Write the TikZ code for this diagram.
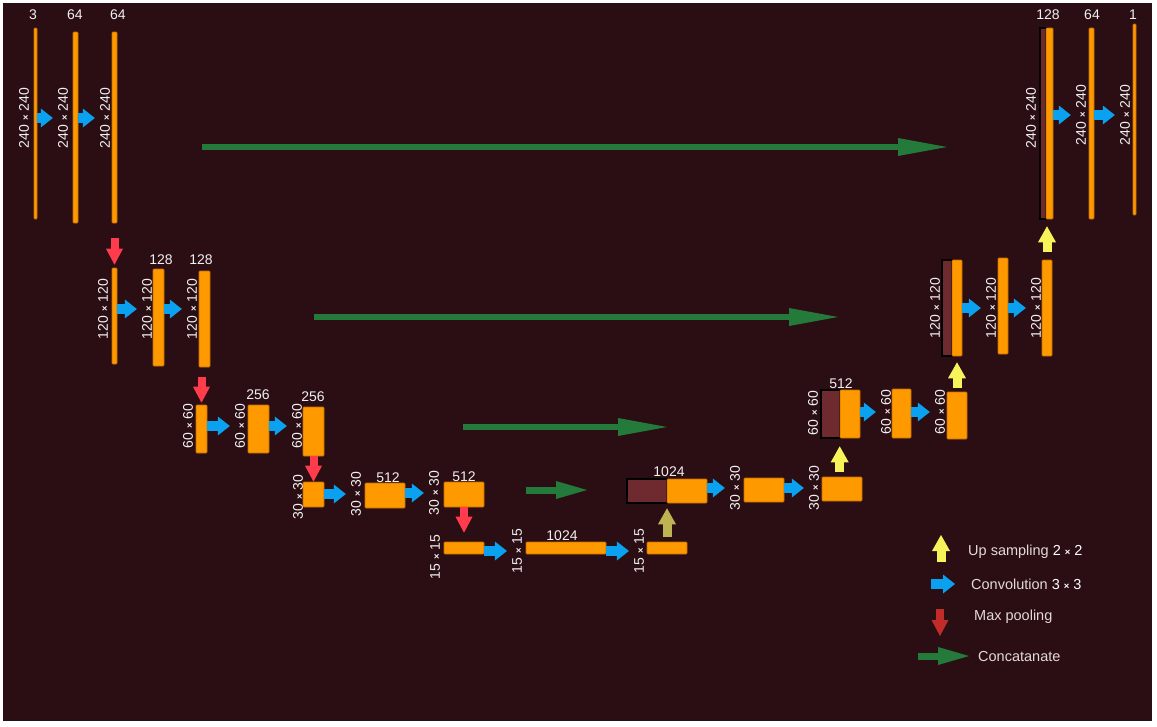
\documentclass[tikz,border=0pt]{standalone}
\usepackage{fontspec}
\setmainfont{Liberation Sans}
\usetikzlibrary{arrows.meta, fit}

\definecolor{bgc}{HTML}{2B0E13}
\definecolor{orng}{HTML}{FF9900}
\definecolor{orline}{HTML}{C46C00}
\definecolor{catc}{HTML}{6E2A2E}
\definecolor{convc}{HTML}{0AA2F0}
\definecolor{poolc}{HTML}{FF3B4C}
\definecolor{legred}{HTML}{C12B28}
\definecolor{upc}{HTML}{F5F55A}
\definecolor{upoldc}{HTML}{BDB352}
\definecolor{catarr}{HTML}{237A3A}
\definecolor{txt}{HTML}{F0F0F0}
\definecolor{legtxt}{HTML}{E3D9D9}

\newcommand{\tms}{{\fontsize{9.5}{9.5}\selectfont\bfseries ×}}

\tikzset{
  bar/.style={draw=orline, fill=orng, line width=0.6pt, inner sep=0pt, rounded corners=0.8pt},
  catbar/.style={draw=black, fill=catc, line width=1.8pt, inner sep=0pt},
  dim/.style={text=txt, rotate=90, inner sep=0pt, font=\fontsize{14}{16}\selectfont},
  chan/.style={text=txt, inner sep=0pt, font=\fontsize{14}{16}\selectfont},
  legtext/.style={text=legtxt, inner sep=0pt, anchor=west, font=\fontsize{14.5}{16}\selectfont},
  conv/.style={convc, line width=9.5pt, -{Triangle[length=12pt,width=19pt,line width=0pt]}, shorten >=5pt},
  pool/.style={poolc, line width=8pt, -{Triangle[length=16pt,width=17pt,line width=0pt]}},
  upsamp/.style={upc, line width=9pt, -{Triangle[length=16pt,width=18pt,line width=0pt]}},
  concat/.style={catarr, line width=6.5pt, -{Triangle[length=49pt,width=18pt,line width=0pt]}},
  concatshort/.style={catarr, line width=7pt, -{Triangle[length=31pt,width=18pt,line width=0pt]}}
}

\begin{document}
\begin{tikzpicture}[x=1pt, y=-1pt]

\fill[white] (0,0) rectangle (1157,726);
\fill[bgc] (3,3) rectangle (1152,721);

% concatenated halves (drawn first, orange parts sit on top)
\foreach \nm/\xa/\ya/\xb/\yb in {u4m/627/479/667/503, u3m/821/390/840/438,
  u2m/942/260/952/356, u1m/1040/28/1046/219}
\node[catbar, fit={(\xa,\ya) (\xb,\yb)}] (\nm) {};

% feature maps
\foreach \nm/\xa/\ya/\xb/\yb in {d1a/34/28/37/219, d1b/73/32/78/223, d1c/112/32/117/223,
  d2a/112/268/117/364, d2b/153/269/164/366, d2c/199/271/210/367,
  d3a/196/405/207/453, d3b/248/405/269/453, d3c/303/407/324/456,
  d4a/303/482/324/507, d4b/365/483/405/508, d4c/444/482/484/507,
  b5a/444/542/484/554, b5b/526/542/606/554, b5c/647/542/687/554,
  u4a/667/479/707/503, u4b/744/478/784/502, u4c/822/477/862/501,
  u3a/840/390/860/438, u3b/892/389/911/438, u3c/947/392/967/439,
  u2a/952/260/962/356, u2b/998/258/1008/354, u2c/1042/260/1052/356,
  u1a/1046/28/1053/219, u1b/1089/28/1094/219, u1c/1133/24/1136/215}
\node[bar, fit={(\xa,\ya) (\xb,\yb)}] (\nm) {};

% sizes
\foreach \nm/\px/\py/\t in {td1a/24/118/240, td1b/63/118/240, td1c/105/118/240,
  td2a/103/309/120, td2b/147/309/120, td2c/192/309/120,
  td3a/188/426/60, td3b/240/426/60, td3c/297/426/60,
  td4a/298/497/30, td4b/356/494/30, td4c/434/493/30,
  tb5a/435/557/15, tb5b/517/551/15, tb5c/639/551/15,
  tu4b/735/488/30, tu4c/814/488/30,
  tu3a/813/413/60, tu3b/886/412/60, tu3c/940/412/60,
  tu2a/935/308/120, tu2b/991/308/120, tu2c/1036/308/120,
  tu1a/1031/118/240, tu1b/1081/115/240, tu1c/1125/115/240}
\node[dim] (\nm) at (\px,\py) {\t\ \tms\ \t};

% channels
\foreach \nm/\px/\py/\t in {cd1a/33/15/3, cd1b/75/15/64, cd1c/118/15/64,
  cd2b/161/260/128, cd2c/201/260/128, cd3b/258/395/256, cd3c/313/397/256,
  cd4b/388/478/512, cd4c/464/477/512, cb5b/562/536/1024,
  cu4/669/472/1024, cu3/841/384/512,
  cu1a/1048/15/128, cu1b/1092/15/64, cu1c/1133/15/1}
\node[chan] (\nm) at (\px,\py) {\t};

% 3x3 convolutions
\foreach \a/\b in {d1a/td1b, d1b/td1c, d2a/td2b, d2b/td2c, d3a/td3b, d3b/td3c,
  d4a/td4b, d4b/td4c, b5a/tb5b, b5b/tb5c, u4a/tu4b, u4b/tu4c,
  u3a/tu3b, u3b/tu3c, u2a/tu2b, u2b/tu2c, u1a/tu1b, u1b/tu1c}
\draw[conv] (\a.east |- \b) -- (\b);

% max pooling
\draw[pool, shorten <=15pt, shorten >=3pt] (d1c.south) -- (d2a.north);
\draw[pool, shorten <=10pt, shorten >=2pt] (d3a.north |- d2c.south) -- (d3a.north);
\draw[pool] (d3c.south) -- (d4a.north);
\draw[pool, shorten >=9pt] (d4c.south) -- (b5a.north);

% up sampling
\draw[upsamp, upoldc, shorten <=5pt, shorten >=5pt] (b5c.north) -- (b5c.north |- u4a.south);
\draw[upsamp, shorten <=5pt, shorten >=8pt] (u3a.south west |- u4c.north) -- (u3a.south west);
\draw[upsamp, shorten <=4pt, shorten >=6pt] (u3c.north) -- (u3c.north |- u2a.south);
\draw[upsamp, shorten <=8pt, shorten >=7pt] (u2c.north) -- (u2c.north |- u1a.south);

% skip connections
\coordinate (k1s) at (202,147); \coordinate (k1e) at (947,147);
\coordinate (k2s) at (314,317); \coordinate (k2e) at (838,317);
\coordinate (k3s) at (463,427); \coordinate (k3e) at (667,427);
\coordinate (k4s) at (526,490); \coordinate (k4e) at (587,490);
\draw[concat] (k1s) -- (k1e);
\draw[concat] (k2s) -- (k2e);
\draw[concat] (k3s) -- (k3e);
\draw[concatshort] (k4s) -- (k4e);

% legend
\node[legtext] (lg1) at (968,552) {Up sampling {\color{white}2 \tms\ 2}};
\node[legtext] (lg2) at (971,584) {Convolution {\color{white}3 \tms\ 3}};
\node[legtext] (lg3) at (974,617) {Max pooling};
\node[legtext] (lg4) at (978,656) {Concatanate};
\draw[upsamp] (941,562) -- (941,535);
\draw[conv, shorten >=0pt] (931,584) -- (955,584);
\draw[pool, legred] (940,609) -- (940,636);
\draw[concatshort] (918,656) -- (969,656);

\end{tikzpicture}
\end{document}
